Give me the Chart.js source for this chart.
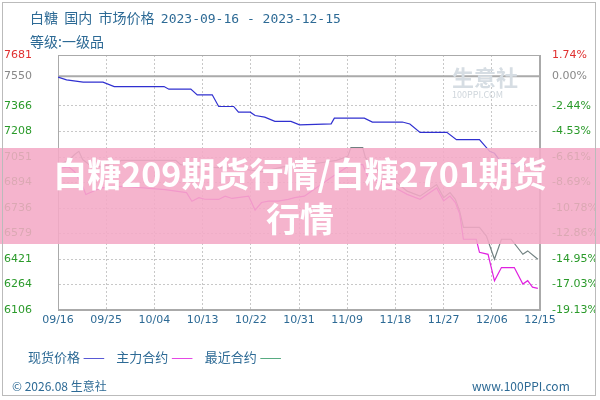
<!DOCTYPE html>
<html>
<head>
<meta charset="utf-8">
<script src="https://cdn.jsdelivr.net/npm/chart.js@4/dist/chart.umd.min.js"></script>
<style>
  body { margin: 0; background: #fff; font-family: "Noto Sans CJK SC", sans-serif; }
  #wrap { position: relative; width: 600px; height: 400px; }
  #frame { position: absolute; left: 2px; top: 2px; width: 594px; height: 394px; border: 1px solid #bbb; box-sizing: border-box; pointer-events: none; }
  .t { position: absolute; white-space: nowrap; }
  #band { position: absolute; left: 0; top: 148px; width: 600px; height: 96px; background: rgba(244,170,198,0.88); }
  #bandText { position: absolute; left: 0; top: 150px; width: 600px; text-align: center; color: #fff; font-weight: bold; font-size: 34px; line-height: 45px; }
</style>
</head>
<body>
<div id="wrap">
  <canvas id="c" width="600" height="400"></canvas>
  <div class="t" style="left:30px;top:7px;color:#2d6a95;font-size:14px;">白糖&nbsp; 国内&nbsp; 市场价格&nbsp; <span style="font-family:'DejaVu Sans Mono';font-size:13px;">2023-09-16 - 2023-12-15</span></div>
  <div class="t" style="left:30px;top:31px;color:#2d6a95;font-size:14px;">等级:一级品</div>
  <div class="t" style="left:452px;top:60px;color:#d6dde3;font-size:22px;font-weight:bold;">生意社</div>
  <div class="t" style="left:452px;top:88px;color:#cfd6dc;font-size:9px;">100PPI.COM</div>
  <div class="t" style="left:28px;top:347px;color:#2d6a95;font-size:13px;">现货价格 <span style="color:#3333cc">——</span>&nbsp;&nbsp;&nbsp; 主力合约 <span style="color:#e020e0">——</span>&nbsp;&nbsp;&nbsp; 最近合约 <span style="color:#339966">——</span></div>
  <div class="t" style="left:12px;top:377px;color:#2d6a95;font-size:12px;">© 2026.08 生意社</div>
  <div class="t" style="left:472px;top:377px;color:#2d6a95;font-size:12px;">www.100PPI.com</div>
  <div id="band"></div>
  <div id="bandText">白糖209期货行情/白糖2701期货<br>行情</div>
  <div id="frame"></div>
</div>
<script>
// 数据 (x = 距 09/16 的天数)
const dateLabels = ['09/16', '09/25', '10/04', '10/13', '10/22', '10/31', '11/09', '11/18', '11/27', '12/06', '12/15'];
const yTicks = [7681, 7550, 7366, 7208, 7051, 6894, 6736, 6579, 6421, 6264, 6106];
const basePrice = 7550;

const spotDays = [0, 1.6, 4.7, 8.4, 10.5, 19.8, 20.7, 24.8, 26, 28.8, 30, 32.8, 33.7, 35.9, 36.8, 38.6, 40.5, 43.5, 45.1, 51, 51.6, 57.2, 58.7, 64.3, 65.7, 67.6, 72.6, 74.4, 78.7, 80.6, 81.5, 82.8, 85, 90];
const spotPrice = [7544, 7527, 7513, 7513, 7486, 7486, 7470, 7470, 7435, 7435, 7363, 7363, 7328, 7328, 7307, 7297, 7271, 7271, 7250, 7256, 7291, 7291, 7267, 7267, 7255, 7203, 7203, 7158, 7158, 7086, 7074, 7016, 7010, 7000];

const nearDays = [0, 2, 3.1, 3.9, 4.6, 6, 8, 11.1, 11.8, 22, 22.9, 26, 30, 34, 38, 42, 46, 50, 52, 54.1, 54.7, 56.9, 57.4, 60, 63, 65.2, 67.6, 70.7, 72, 73.2, 74.2, 75, 75.7, 78.7, 80, 81.5, 82.8, 84.6, 86.8, 87.7, 89.6];
const nearPrice = [7000, 7030, 7066, 7086, 7035, 7000, 6990, 7016, 7030, 7030, 7004, 6990, 6985, 6980, 6960, 6990, 7000, 7020, 7030, 7055, 7109, 7109, 7047, 6960, 6900, 6840, 6809, 6881, 6800, 6831, 6790, 6717, 6616, 6616, 6563, 6420, 6543, 6543, 6450, 6471, 6420];

const mainDays = [0, 2, 3.1, 4.6, 5.2, 8, 12, 16, 20, 24, 25, 26.3, 27.4, 30, 31.2, 32.5, 35.6, 36.8, 38, 39.3, 41.1, 43, 44.2, 46, 51, 54.7, 56.9, 57.8, 60, 63, 65.2, 67.6, 70.7, 72, 73.2, 74.2, 75, 75.7, 78.1, 78.7, 80.3, 81.5, 82.8, 85.2, 86.8, 87.7, 88.6, 89.6];
const mainPrice = [6980, 6990, 6960, 6870, 6819, 6860, 6870, 6860, 6850, 6831, 6778, 6800, 6790, 6789, 6809, 6795, 6809, 6723, 6770, 6778, 6778, 6789, 6800, 6809, 6924, 7004, 7004, 6932, 6900, 6860, 6820, 6790, 6860, 6780, 6810, 6770, 6700, 6543, 6543, 6462, 6450, 6286, 6368, 6368, 6266, 6287, 6247, 6240];

function pts(xs, ys) {
    return xs.map((x, i) => ({ x: x, y: ys[i] }));
}

const setTicks = axis => { axis.ticks = yTicks.map(v => ({ value: v })); };
const tickColor = ctx => {
    const v = ctx.tick.value;
    if (v === 7681) return '#e03030';
    if (v === 7550) return '#888';
    return '#2a9a2a';
};

// khung + đường 7550
const framePlugin = {
    id: 'frame',
    beforeDatasetsDraw(chart) {
        const a = chart.chartArea, c = chart.ctx;
        const y = chart.scales.y.getPixelForValue(basePrice);
        c.save();
        c.strokeStyle = '#aaa';
        c.lineWidth = 2;
        c.beginPath(); c.moveTo(a.left, y); c.lineTo(a.right, y); c.stroke();
        c.lineWidth = 1;
        c.strokeRect(a.left + 0.5, a.top + 0.5, a.right - a.left - 1, a.bottom - a.top - 1);
        c.restore();
    }
};

new Chart(document.getElementById('c'), {
    type: 'line',
    data: {
        datasets: [
            { data: pts(spotDays, spotPrice), borderColor: '#3030d0', borderWidth: 1.2, pointRadius: 0, tension: 0 },
            { data: pts(mainDays, mainPrice), borderColor: '#e020e0', borderWidth: 1.2, pointRadius: 0, tension: 0 },
            { data: pts(nearDays, nearPrice), borderColor: '#708080', borderWidth: 1.2, pointRadius: 0, tension: 0 }
        ]
    },
    options: {
        responsive: false,
        animation: false,
        layout: { padding: { top: 55, bottom: 68, left: 4, right: 4 } },
        plugins: { legend: { display: false }, tooltip: { enabled: false } },
        scales: {
            x: {
                type: 'linear', min: 0, max: 90,
                afterBuildTicks: axis => { axis.ticks = dateLabels.map((d, i) => ({ value: i * 9 })); },
                afterFit: axis => { axis.height = 22; },
                ticks: {
                    callback: (v) => dateLabels[Math.round(v / 9)],
                    color: '#2d6a95', font: { size: 11, family: 'DejaVu Sans' }, maxRotation: 0, padding: 4
                },
                grid: { color: '#c8c8c8', drawTicks: false },
                border: { color: '#aaa', dash: [2, 2] }
            },
            y: {
                position: 'left', min: 6106, max: 7681,
                afterBuildTicks: setTicks,
                afterFit: axis => { axis.width = 54; },
                ticks: { color: tickColor, font: { size: 11, family: 'DejaVu Sans' }, crossAlign: 'far', padding: 4, callback: v => String(v) },
                grid: { color: '#c8c8c8', drawTicks: false },
                border: { color: '#aaa', dash: [2, 2] }
            },
            y2: {
                position: 'right', min: 6106, max: 7681,
                afterBuildTicks: setTicks,
                afterFit: axis => { axis.width = 56; },
                ticks: {
                    color: tickColor, font: { size: 11, family: 'DejaVu Sans' }, padding: 4,
                    callback: v => ((v - basePrice) / basePrice * 100).toFixed(2) + '%'
                },
                grid: { display: false },
                border: { color: '#aaa' }
            }
        }
    },
    plugins: [framePlugin]
});
</script>
</body>
</html>
